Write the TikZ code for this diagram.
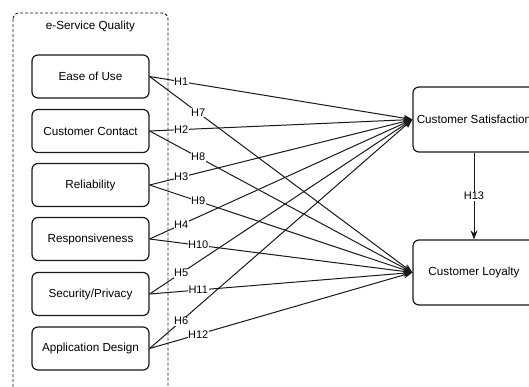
\documentclass[tikz,border=0pt]{standalone}
\usepackage{fontspec}
\setmainfont{Liberation Sans}
\usetikzlibrary{arrows.meta}
\begin{document}
\begin{tikzpicture}[x=1pt,y=-1pt,
  box/.style={draw=black!90, line width=1.2pt, rounded corners=6pt,
    minimum width=117pt, minimum height=43pt, inner sep=0pt,
    font=\fontsize{11.7}{13}\selectfont},
  bigbox/.style={box, minimum width=122pt, minimum height=65pt},
  hyp/.style={fill=white, inner sep=0.6pt, font=\fontsize{11}{12}\selectfont},
  link/.style={draw=black!90, line width=1pt, -{Stealth[length=9pt,width=7pt]}}]
\clip (0,0) rectangle (529,386);

% e-Service Quality group
\draw[black!90, line width=0.9pt, dash pattern=on 3pt off 2pt, rounded corners=6pt]
  (13,13) rectangle (168,400);
\node[font=\fontsize{11.7}{13}\selectfont] (title) at (90.5,26) {e-Service Quality};

% dimensions
\node[box] (eou) at (90.5,76.5)  {Ease of Use};
\node[box] (cc)  at (90.5,131)   {Customer Contact};
\node[box] (rel) at (90.5,185)   {Reliability};
\node[box] (res) at (90.5,239)   {Responsiveness};
\node[box] (sec) at (90.5,294)   {Security/Privacy};
\node[box] (app) at (90.5,348.5) {Application Design};

% outcomes
\node[bigbox] (sat) at (474,119.5) {Customer Satisfaction};
\node[bigbox] (loy) at (474,272.5) {Customer Loyalty};

% paths to satisfaction (H1--H6) and loyalty (H7--H12)
\foreach \src/\n in {eou/1, cc/2, rel/3, res/4, sec/5, app/6}
  \draw[link] (\src.east) -- coordinate[pos=0.12] (hs\n) (sat.west);
\foreach \src/\n in {eou/7, cc/8, rel/9, res/10, sec/11, app/12}
  \draw[link] (\src.east) -- coordinate[pos=0.185] (hs\n) (loy.west);
\draw[link] (sat.south) -- coordinate[pos=0.5] (hs13) (loy.north);

% hypothesis labels on top of the lines
\foreach \n in {1,...,13}
  \node[hyp] (lab\n) at (hs\n) {H\n};
\end{tikzpicture}
\end{document}
